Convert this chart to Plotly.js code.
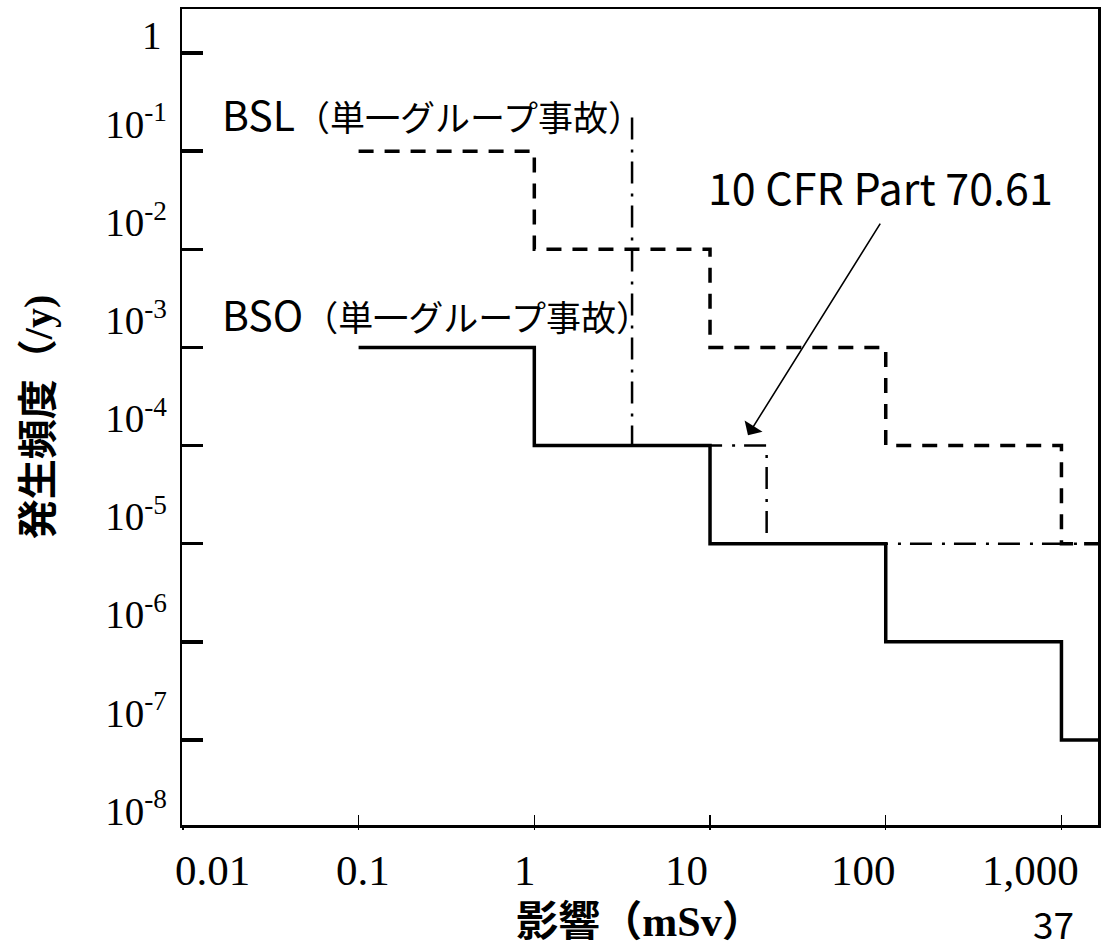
<!DOCTYPE html>
<html><head><meta charset="utf-8">
<script src="https://cdn.plot.ly/plotly-3.0.1.min.js"></script>
<style>html,body{margin:0;padding:0;background:#fff;}</style>
</head><body>
<div id="chart" style="width:1101px;height:946px;"></div>
<script>
// ---- data ----
const bsoDose = [0.1, 1, 10, 100, 1000, 3000];
const bsoFreq = [1e-3, 1e-4, 1e-5, 1e-6, 1e-7, 1e-7];
const bslDose = [0.1, 1, 10, 100, 1000, 3000];
const bslFreq = [1e-1, 1e-2, 1e-3, 1e-4, 1e-5, 1e-5];
const cfrDose = [3.6, 3.6, 21, 3000];
const cfrFreq = [0.22, 1e-4, 1e-5, 1e-5];
const xTickVals = [0.01, 0.1, 1, 10, 100, 1000];
const xTickText = ['0.01', '0.1', '1', '10', '100', '1,000'];
const yTickVals = [1e-1, 1e-2, 1e-3, 1e-4, 1e-5, 1e-6, 1e-7, 1e-8];
const yTickText = ['10<sup>-1</sup>', '10<sup>-2</sup>', '10<sup>-3</sup>', '10<sup>-4</sup>',
                   '10<sup>-5</sup>', '10<sup>-6</sup>', '10<sup>-7</sup>', '10<sup>-8</sup>'];
const yTopLabel = '1';
const bslLabel = 'BSL';
const bsoLabel = 'BSO';
const groupLabel = '（単一グループ事故）';
const cfrLabel = '10 CFR Part 70.61';
const xTitle = '影響（mSv）';
const yTitle = '発生頻度（/y)';
const pageNo = '37';

// ---- layout config (positions / styles) ----
const xRange = [-2.005, 3.208];
const yRange = [-7.867, 0.449];
const labelShiftDec = 0.275;
const xLabelShift = [30, 4, -9, -24, -22, -31];
const serif = 'Liberation Serif, Noto Sans CJK JP, serif';
const sans = 'Noto Sans CJK JP, sans-serif';
const cjkSerifBold = 'Liberation Serif, Noto Sans CJK JP, serif';

const traces = [
  {x: bsoDose, y: bsoFreq, mode: 'lines', line: {shape: 'hv', color: '#000', width: 3.5}, showlegend: false, hoverinfo: 'skip'},
  {x: bslDose, y: bslFreq, mode: 'lines', line: {shape: 'hv', color: '#000', width: 3.5, dash: '15px,11px'}, showlegend: false, hoverinfo: 'skip'},
  {x: cfrDose, y: cfrFreq, mode: 'lines', line: {shape: 'hv', color: '#000', width: 2.5, dash: '22px,10px,3px,9px'}, showlegend: false, hoverinfo: 'skip'},
  {x: [], y: [], xaxis: 'x2', yaxis: 'y2', showlegend: false, hoverinfo: 'skip'}
];

const annotations = [];
xTickVals.forEach((v, i) => annotations.push({
  xref: 'x', yref: 'paper', x: Math.log10(v), y: 0, yshift: -20, xshift: xLabelShift[i],
  xanchor: 'center', yanchor: 'top', showarrow: false, text: xTickText[i],
  font: {family: serif, size: 43, color: '#000'}
}));
annotations.push({
  xref: 'paper', yref: 'y', x: 0, y: Math.log10(1), xshift: -18, yshift: 18,
  xanchor: 'right', yanchor: 'middle', showarrow: false, text: yTopLabel,
  font: {family: serif, size: 39, color: '#000'}
});
annotations.push({
  xref: 'paper', yref: 'paper', x: 0.041, y: 0.873, xanchor: 'left', yanchor: 'middle', showarrow: false,
  text: bslLabel + '<span style="font-size:35px">' + groupLabel + '</span>',
  font: {family: sans, size: 41, color: '#000'}
});
annotations.push({
  xref: 'paper', yref: 'paper', x: 0.041, y: 0.627, xanchor: 'left', yanchor: 'middle', showarrow: false,
  text: bsoLabel + '<span style="font-size:35px">' + groupLabel + '</span>',
  font: {family: sans, size: 41, color: '#000'}
});
annotations.push({
  xref: 'paper', yref: 'paper', x: (706 - 182) / 916, y: 0.783, xanchor: 'left', yanchor: 'middle', showarrow: false,
  text: cfrLabel, font: {family: sans, size: 43, color: '#000'}
});
annotations.push({
  xref: 'x', yref: 'y', x: 1.216, y: -3.894, axref: 'x', ayref: 'y', ax: 1.974, ay: -1.723,
  text: '', showarrow: true, arrowhead: 1, arrowsize: 2.2, arrowwidth: 1.6, arrowcolor: '#000'
});
annotations.push({
  xref: 'paper', yref: 'paper', x: (1053 - 182) / 916, y: -0.1201, xanchor: 'center', yanchor: 'middle',
  showarrow: false, text: pageNo, font: {family: sans, size: 37, color: '#000'}
});

const layout = {
  width: 1101, height: 946,
  margin: {l: 182, r: 3, t: 9, b: 121},
  paper_bgcolor: '#fff', plot_bgcolor: '#fff',
  showlegend: false,
  xaxis: {
    type: 'log', range: xRange, tickvals: xTickVals, ticks: 'inside', ticklen: 10, tickwidth: 1.5,
    tickcolor: '#000', showticklabels: false, showgrid: false, zeroline: false,
    showline: true, linecolor: '#000', linewidth: 2.5, mirror: true,
    title: {text: xTitle, standoff: 80, font: {family: cjkSerifBold, size: 42, color: '#000', weight: 'bold'}}
  },
  xaxis2: {
    type: 'log', range: xRange, overlaying: 'x', anchor: 'y', side: 'bottom', tickvals: xTickVals,
    ticks: 'outside', ticklen: 4, tickwidth: 1.5, tickcolor: '#000', showticklabels: false,
    showgrid: false, zeroline: false, showline: false
  },
  yaxis: {
    type: 'log', range: yRange, tickvals: [1, 1e-1, 1e-2, 1e-3, 1e-4, 1e-5, 1e-6, 1e-7],
    ticks: 'inside', ticklen: 21, tickwidth: 3.5, tickcolor: '#000', showticklabels: false,
    showgrid: false, zeroline: false, showline: true, linecolor: '#000', linewidth: 2.5, mirror: true,
    title: {text: yTitle, standoff: 115, font: {family: cjkSerifBold, size: 40, color: '#000', weight: 'bold'}}
  },
  yaxis2: {
    type: 'log', range: [yRange[0] - labelShiftDec, yRange[1] - labelShiftDec], overlaying: 'y', anchor: 'x', side: 'left',
    tickvals: yTickVals, ticktext: yTickText, ticks: '', ticklabelstandoff: 14,
    tickfont: {family: serif, size: 39, color: '#000'},
    showgrid: false, zeroline: false, showline: false
  },
  annotations: annotations
};

Plotly.newPlot('chart', traces, layout, {staticPlot: true, displayModeBar: false});
</script>
</body></html>
